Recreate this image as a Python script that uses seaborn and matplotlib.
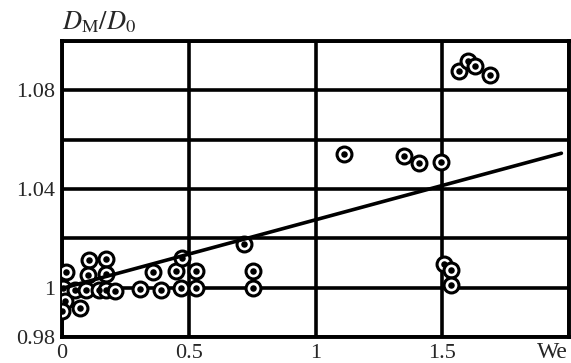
import matplotlib
matplotlib.use("Agg")
import matplotlib.pyplot as plt
import seaborn as sns
import pandas as pd

# measured points (We, D_M/D_0)
we = [0.015, 0.005, 0.012, 0.001, 0.071, 0.051, 0.094, 0.107, 0.101, 0.173,
      0.173, 0.147, 0.173, 0.209, 0.307, 0.357, 0.392, 0.451, 0.474, 0.471,
      0.530, 0.530, 0.718, 0.753, 0.753,
      1.505, 1.534, 1.534,
      1.114, 1.350, 1.409, 1.495,
      1.567, 1.600, 1.630, 1.689]
dm = [1.0062, 0.9998, 0.9947, 0.9907, 0.9916, 0.9992, 0.9992, 1.0112, 1.0052, 1.0116,
      1.0056, 0.9992, 0.9992, 0.9988, 0.9995, 1.0062, 0.9992, 1.0066, 1.0120, 1.0000,
      1.0066, 1.0000, 1.0177, 1.0066, 1.0000,
      1.0096, 1.0072, 1.0012,
      1.0542, 1.0533, 1.0504, 1.0508,
      1.0877, 1.0918, 1.0897, 1.0863]

# trend line
fit_we = [0.0, 1.97]
fit_dm = [0.9997, 1.0545]

x_ticks = [0, 0.5, 1, 1.5, 2]
x_labels = ["0", "0.5", "1", "1.5", ""]
y_ticks = [0.98, 1.00, 1.02, 1.04, 1.06, 1.08, 1.10]
y_labels = ["0.98", "1", "", "1.04", "", "1.08", ""]

sns.set_style("white")
plt.rcParams["font.family"] = ["Liberation Serif", "DejaVu Serif"]
plt.rcParams["mathtext.fontset"] = "stix"

fig = plt.figure(figsize=(5.71, 3.63), dpi=100)
ax = fig.add_axes([0.1086, 0.0716, 0.8879, 0.8154])

df = pd.DataFrame({"We": we, "D": dm})
line_df = pd.DataFrame({"We": fit_we, "D": fit_dm})

sns.scatterplot(data=df, x="We", y="D", s=115, facecolor="white", edgecolor="black",
                linewidth=2.2, ax=ax, zorder=3)
sns.lineplot(data=line_df, x="We", y="D", color="black", linewidth=2.6, ax=ax, zorder=4)
sns.scatterplot(data=df, x="We", y="D", s=22, color="black", edgecolor="black",
                linewidth=0, ax=ax, zorder=5)

ax.set_xlim(0, 2)
ax.set_ylim(0.98, 1.10)
ax.set_xticks(x_ticks)
ax.set_xticklabels(x_labels)
ax.set_yticks(y_ticks)
ax.set_yticklabels(y_labels)
ax.tick_params(axis="x", length=0, labelsize=16, pad=5)
ax.tick_params(axis="y", length=0, labelsize=16, pad=5)
ax.grid(True, color="black", linewidth=2.6)
ax.set_axisbelow(True)
for sp in ax.spines.values():
    sp.set_visible(True)
    sp.set_color("black")
    sp.set_linewidth(2.8)
ax.set_xlabel("")
ax.set_ylabel("")

fig.text(0.108, 0.94, r"$D_{\mathrm{M}}/D_0$", fontsize=19, va="center", ha="left")
fig.text(0.968, 0.03, "We", fontsize=17, va="center", ha="center")

plt.savefig("out.png", dpi=100)
